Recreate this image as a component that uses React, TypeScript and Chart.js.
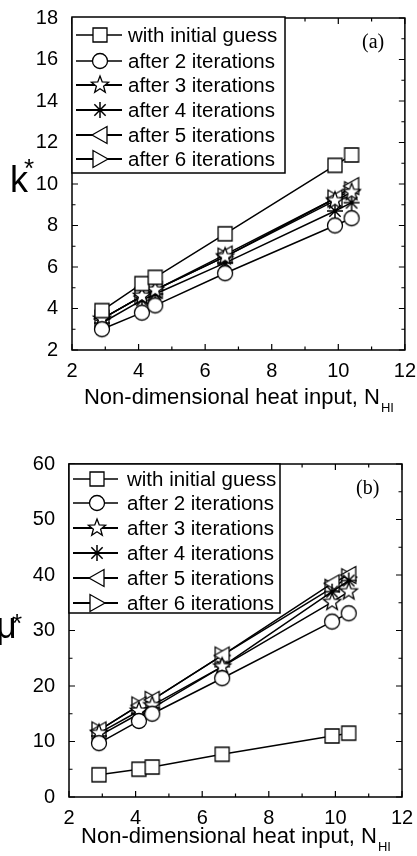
import { useEffect, useRef } from "react";
import { Chart, registerables } from "chart.js";
Chart.register(...registerables);

const xValues = [2.9, 4.1, 4.5, 6.6, 9.9, 10.4];
const seriesLabels = [
  "with initial guess",
  "after 2 iterations",
  "after 3 iterations",
  "after 4 iterations",
  "after 5 iterations",
  "after 6 iterations",
];
const markerKinds = ["square", "circle", "star5", "asterisk", "triLeft", "triRight"];

const kInitial = [3.9, 5.2, 5.5, 7.6, 10.9, 11.4];
const kAfter2 = [3.0, 3.8, 4.15, 5.7, 8.0, 8.35];
const kAfter3 = [3.5, 4.6, 4.9, 6.5, 9.2, 9.6];
const kAfter4 = [3.3, 4.4, 4.7, 6.2, 8.7, 9.1];
const kAfter5 = [3.5, 4.6, 4.9, 6.6, 9.3, 9.9];
const kAfter6 = [3.5, 4.6, 4.9, 6.5, 9.3, 9.7];

const muInitial = [4.0, 5.0, 5.4, 7.7, 11.0, 11.5];
const muAfter2 = [9.7, 13.7, 15.0, 21.4, 31.6, 33.1];
const muAfter3 = [11.5, 15.5, 16.5, 23.5, 35.1, 37.0];
const muAfter4 = [11.0, 15.0, 16.0, 23.5, 37.0, 39.0];
const muAfter5 = [12.0, 16.5, 17.5, 25.5, 38.5, 40.0];
const muAfter6 = [12.0, 16.5, 17.5, 25.5, 37.7, 39.6];

const kTicks = { min: 2, max: 18, step: 2, minor: 1 };
const muTicks = { min: 0, max: 60, step: 10, minor: 5 };
const xTicks = { min: 2, max: 12, step: 2, minor: 1 };

const SANS = "'Liberation Sans', Arial, sans-serif";
const SERIF = "'Liberation Serif', 'Times New Roman', serif";

function makeMarker(kind: string): HTMLCanvasElement {
  const S = 24;
  const c = document.createElement("canvas");
  c.width = S;
  c.height = S;
  const ctx = c.getContext("2d")!;
  const m = S / 2;
  ctx.strokeStyle = "#000";
  ctx.fillStyle = "#fff";
  ctx.lineWidth = 1.3;
  ctx.beginPath();
  if (kind === "square") {
    ctx.rect(m - 7, m - 7, 14, 14);
  } else if (kind === "circle") {
    ctx.arc(m, m, 7.5, 0, Math.PI * 2);
  } else if (kind === "star5") {
    const ro = 9, ri = 3.8;
    for (let i = 0; i < 10; i++) {
      const r = i % 2 === 0 ? ro : ri;
      const a = -Math.PI / 2 + (i * Math.PI) / 5;
      const px = m + r * Math.cos(a), py = m + r * Math.sin(a);
      if (i === 0) ctx.moveTo(px, py);
      else ctx.lineTo(px, py);
    }
    ctx.closePath();
  } else if (kind === "asterisk") {
    const r = 8;
    for (let i = 0; i < 4; i++) {
      const a = (i * Math.PI) / 4;
      ctx.moveTo(m - r * Math.cos(a), m - r * Math.sin(a));
      ctx.lineTo(m + r * Math.cos(a), m + r * Math.sin(a));
    }
    ctx.lineWidth = 1.5;
    ctx.stroke();
    return c;
  } else if (kind === "triLeft") {
    ctx.moveTo(m - 8, m);
    ctx.lineTo(m + 7, m - 8.5);
    ctx.lineTo(m + 7, m + 8.5);
    ctx.closePath();
  } else if (kind === "triRight") {
    ctx.moveTo(m + 8, m);
    ctx.lineTo(m - 7, m - 8.5);
    ctx.lineTo(m - 7, m + 8.5);
    ctx.closePath();
  }
  ctx.fill();
  ctx.stroke();
  return c;
}

type PanelCfg = {
  series: number[][];
  yt: { min: number; max: number; step: number; minor: number };
  height: number;
  padTop: number;
  padRight: number;
  yWidth: number;
  xHeight: number;
  xTickPad: number;
  yTitle: string;
  yTitleX: number;
  yTitleBase: number;
  starX: number;
  starBase: number;
  legend: { x0: number; x1: number; y0: number; y1: number; rows: number[]; lx0: number; lx1: number; mx: number; tx: number };
  panel: string;
  panelX: number;
  panelY: number;
  xTitleY: number;
};

function Panel({ cfg }: { cfg: PanelCfg }) {
  const ref = useRef<HTMLCanvasElement>(null);
  useEffect(() => {
    const markers = markerKinds.map(makeMarker);
    const decor = {
      id: "decor",
      afterDatasetsDraw(chart: any) {
        const ctx = chart.ctx as CanvasRenderingContext2D;
        const { left, right, top, bottom } = chart.chartArea;
        const xs = chart.scales.x;
        const ys = chart.scales.y;
        ctx.save();
        ctx.strokeStyle = "#000";
        ctx.lineWidth = 1.5;
        ctx.strokeRect(left, top, right - left, bottom - top);
        // inward ticks
        ctx.lineWidth = 1.2;
        ctx.beginPath();
        for (let v = xTicks.min; v <= xTicks.max + 1e-9; v += xTicks.minor) {
          const major = Math.abs((v - xTicks.min) % xTicks.step) < 1e-9;
          const L = major ? 6 : 3.5;
          const px = xs.getPixelForValue(v);
          ctx.moveTo(px, bottom);
          ctx.lineTo(px, bottom - L);
          ctx.moveTo(px, top);
          ctx.lineTo(px, top + L);
        }
        const yt = cfg.yt;
        for (let v = yt.min; v <= yt.max + 1e-9; v += yt.minor) {
          const major = Math.abs((v - yt.min) % yt.step) < 1e-9;
          const L = major ? 6 : 3.5;
          const py = ys.getPixelForValue(v);
          ctx.moveTo(left, py);
          ctx.lineTo(left + L, py);
          ctx.moveTo(right, py);
          ctx.lineTo(right - L, py);
        }
        ctx.stroke();
        // legend
        const lg = cfg.legend;
        ctx.fillStyle = "#fff";
        ctx.fillRect(lg.x0, lg.y0, lg.x1 - lg.x0, lg.y1 - lg.y0);
        ctx.lineWidth = 1.5;
        ctx.strokeRect(lg.x0, lg.y0, lg.x1 - lg.x0, lg.y1 - lg.y0);
        ctx.font = `20.5px ${SANS}`;
        ctx.textBaseline = "middle";
        ctx.textAlign = "left";
        seriesLabels.forEach((lab, i) => {
          const yy = lg.rows[i];
          ctx.beginPath();
          ctx.lineWidth = i >= 2 ? 2 : 1.6;
          ctx.moveTo(lg.lx0, yy);
          ctx.lineTo(lg.lx1, yy);
          ctx.stroke();
          const mk = markers[i];
          ctx.drawImage(mk, lg.mx - mk.width / 2, yy - mk.height / 2);
          ctx.fillStyle = "#000";
          ctx.fillText(lab, lg.tx, yy + 1);
        });
        // panel label
        ctx.font = `20px ${SERIF}`;
        ctx.fillStyle = "#000";
        ctx.fillText(cfg.panel, cfg.panelX, cfg.panelY);
        // x title
        ctx.textBaseline = "alphabetic";
        ctx.font = `22px ${SANS}`;
        const main = "Non-dimensional heat input, N";
        const w1 = ctx.measureText(main).width;
        ctx.font = `13px ${SANS}`;
        const w2 = ctx.measureText("HI").width;
        const cx = (left + right) / 2;
        const sx = cx - (w1 + w2) / 2;
        ctx.font = `22px ${SANS}`;
        ctx.fillText(main, sx, cfg.xTitleY);
        ctx.font = `13px ${SANS}`;
        ctx.fillText("HI", sx + w1 + 1, cfg.xTitleY + 8);
        // y title
        ctx.font = `36px ${SANS}`;
        ctx.fillText(cfg.yTitle, cfg.yTitleX, cfg.yTitleBase);
        ctx.font = `26px ${SANS}`;
        ctx.fillText("*", cfg.starX, cfg.starBase);
        ctx.restore();
      },
    };
    const chart = new Chart(ref.current!, {
      type: "line",
      data: {
        datasets: cfg.series.map((vals, i) => ({
          label: seriesLabels[i],
          data: vals.map((v, j) => ({ x: xValues[j], y: v })),
          borderColor: "#000",
          borderWidth: 1.5,
          pointStyle: markers[i] as any,
          pointRadius: 8,
          backgroundColor: "#fff",
          fill: false,
          tension: 0,
        })),
      },
      options: {
        animation: false,
        responsive: false,
        devicePixelRatio: 1,
        layout: { padding: { top: cfg.padTop, right: cfg.padRight, left: 0, bottom: 0 } },
        plugins: { legend: { display: false }, tooltip: { enabled: false } },
        scales: {
          x: {
            type: "linear",
            min: xTicks.min,
            max: xTicks.max,
            grid: { display: false },
            border: { display: false },
            ticks: { stepSize: xTicks.step, color: "#000", font: { size: 20, family: SANS }, padding: cfg.xTickPad, maxRotation: 0 },
            afterFit: (s: any) => {
              s.height = cfg.xHeight;
            },
          },
          y: {
            type: "linear",
            min: cfg.yt.min,
            max: cfg.yt.max,
            grid: { display: false },
            border: { display: false },
            ticks: { stepSize: cfg.yt.step, color: "#000", font: { size: 20, family: SANS }, padding: 6 },
            afterFit: (s: any) => {
              s.width = cfg.yWidth;
            },
          },
        },
      } as any,
      plugins: [decor],
    });
    return () => chart.destroy();
  }, [cfg]);
  return <canvas ref={ref} width={417} height={cfg.height} style={{ display: "block", width: 417, height: cfg.height }} />;
}

const topCfg: PanelCfg = {
  series: [kInitial, kAfter2, kAfter3, kAfter4, kAfter5, kAfter6],
  yt: kTicks,
  height: 430,
  padTop: 17,
  padRight: 12,
  yWidth: 72,
  xHeight: 80,
  xTickPad: 1,
  yTitle: "k",
  yTitleX: 10,
  yTitleBase: 192,
  starX: 24,
  starBase: 177,
  legend: { x0: 72, x1: 285, y0: 17, y1: 173, rows: [35, 61, 85, 110, 135, 159], lx0: 76, lx1: 122, mx: 100, tx: 128 },
  panel: "(a)",
  panelX: 362,
  panelY: 43,
  xTitleY: 404,
};

const bottomCfg: PanelCfg = {
  series: [muInitial, muAfter2, muAfter3, muAfter4, muAfter5, muAfter6],
  yt: muTicks,
  height: 426,
  padTop: 34,
  padRight: 15,
  yWidth: 69,
  xHeight: 59,
  xTickPad: 1,
  yTitle: "μ",
  yTitleX: -4,
  yTitleBase: 208,
  starX: 12,
  starBase: 202,
  legend: { x0: 69, x1: 280, y0: 34, y1: 183, rows: [49, 73, 98, 123, 148, 173], lx0: 73, lx1: 118, mx: 97, tx: 127 },
  panel: "(b)",
  panelX: 356,
  panelY: 59,
  xTitleY: 413,
};

export default function App() {
  return (
    <div style={{ position: "absolute", left: 0, top: 0, width: 417, height: 856, background: "#fff" }}>
      <Panel cfg={topCfg} />
      <Panel cfg={bottomCfg} />
    </div>
  );
}
